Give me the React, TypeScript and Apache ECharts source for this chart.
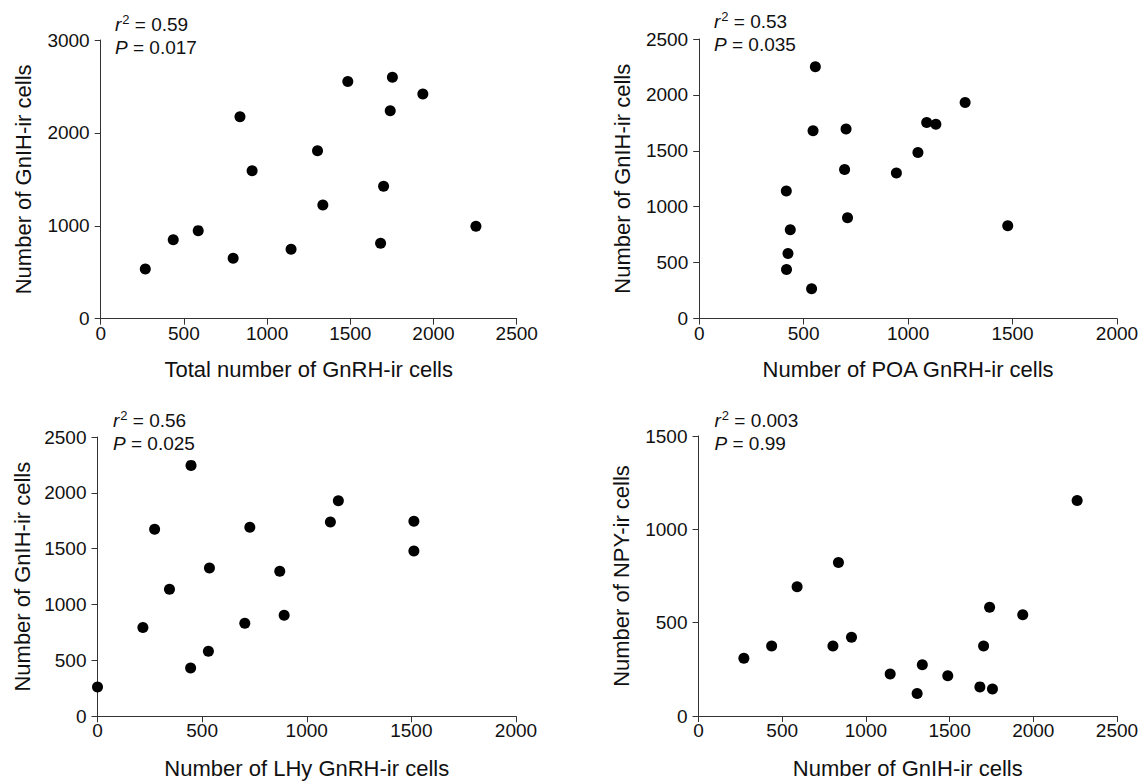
import React, { useEffect, useRef } from "react";
import * as echarts from "echarts";

// Panel A: total GnRH-ir vs GnIH-ir
const totalGnRH = [268, 436, 586, 796, 837, 910, 1144, 1303, 1335, 1485, 1682, 1700, 1740, 1753, 1936, 2255];
const gnihA = [535, 851, 948, 650, 2174, 1592, 747, 1807, 1225, 2554, 812, 1426, 2238, 2598, 2418, 995];
// Panel B: POA GnRH-ir vs GnIH-ir
const poaGnRH = [556, 1273, 1089, 1133, 703, 545, 1047, 696, 944, 417, 710, 1477, 436, 425, 418, 538];
const gnihB = [2252, 1932, 1753, 1738, 1694, 1679, 1484, 1332, 1302, 1141, 902, 830, 794, 582, 439, 266];
// Panel C: LHy GnRH-ir vs GnIH-ir
const lhyGnRH = [447, 1151, 1113, 1512, 1512, 273, 728, 535, 871, 344, 217, 704, 892, 530, 445, 0];
const gnihC = [2246, 1930, 1739, 1745, 1480, 1674, 1692, 1328, 1298, 1137, 794, 832, 904, 582, 433, 263];
// Panel D: GnIH-ir vs NPY-ir
const gnihD = [271, 437, 589, 803, 836, 914, 1145, 1306, 1337, 1489, 1681, 1703, 1739, 1756, 1937, 2262];
const npyD = [309, 375, 692, 375, 822, 422, 225, 120, 275, 216, 156, 375, 583, 145, 542, 1155];

const xNames = [
  "Total number of GnRH-ir cells",
  "Number of POA GnRH-ir cells",
  "Number of LHy GnRH-ir cells",
  "Number of GnIH-ir cells",
];
const yNames = [
  "Number of GnIH-ir cells",
  "Number of GnIH-ir cells",
  "Number of GnIH-ir cells",
  "Number of NPY-ir cells",
];
const xMax = [2500, 2000, 2000, 2500];
const xStep = [500, 500, 500, 500];
const yMax = [3000, 2500, 2500, 1500];
const yStep = [1000, 500, 500, 500];
const r2Values = ["0.59", "0.53", "0.56", "0.003"];
const pValues = ["0.017", "0.035", "0.025", "0.99"];

const TEXT = "#111";
const AXIS = "#333";
const FONT = "Liberation Sans, Arial, Helvetica, sans-serif";

export default function App() {
  const ref = useRef<HTMLDivElement>(null);
  useEffect(() => {
    if (!ref.current) return;
    const chart = echarts.init(ref.current, undefined, { renderer: "svg" });
    const grids = [
      { left: 100.7, top: 40, width: 416, height: 278.7 },
      { left: 699.2, top: 39, width: 417.8, height: 279.5 },
      { left: 97.5, top: 437, width: 418.5, height: 279.3 },
      { left: 698.5, top: 436, width: 418.5, height: 280 },
    ];
    const pairs = [
      [totalGnRH, gnihA],
      [poaGnRH, gnihB],
      [lhyGnRH, gnihC],
      [gnihD, npyD],
    ];
    const yGaps = [66, 66, 64, 66];
    const xGaps = [40, 40, 41, 41];
    const axisCommon = {
      axisLine: { show: true, onZero: false, lineStyle: { color: AXIS, width: 1 } },
      axisTick: { show: true, length: 6, lineStyle: { color: AXIS, width: 1 } },
      splitLine: { show: false },
      nameTextStyle: { color: TEXT, fontSize: 22, fontFamily: FONT },
    };
    const textPos = [
      { x: 115, y: 12.5 },
      { x: 714, y: 10 },
      { x: 113, y: 409 },
      { x: 714.5, y: 409 },
    ];
    const rich = {
      i: { fontStyle: "italic", fontSize: 19, fontFamily: FONT, fill: TEXT, lineHeight: 23 },
      s: { fontSize: 13, fontFamily: FONT, fill: TEXT, lineHeight: 23, verticalAlign: "top", padding: [0, 0, 0, 1] },
      n: { fontSize: 19, fontFamily: FONT, fill: TEXT, lineHeight: 23 },
    };
    const fmt = (v: number) => String(v);
    chart.setOption({
      animation: false,
      backgroundColor: "#ffffff",
      grid: grids.map((g) => ({ ...g, containLabel: false })),
      xAxis: grids.map((_, i) => ({
        type: "value",
        gridIndex: i,
        min: 0,
        max: xMax[i],
        interval: xStep[i],
        name: xNames[i],
        nameLocation: "middle",
        nameGap: xGaps[i],
        ...axisCommon,
        axisLabel: { color: TEXT, fontSize: 19, fontFamily: FONT, margin: 5, formatter: fmt },
      })),
      yAxis: grids.map((_, i) => ({
        type: "value",
        gridIndex: i,
        min: 0,
        max: yMax[i],
        interval: yStep[i],
        name: yNames[i],
        nameLocation: "middle",
        nameGap: yGaps[i],
        ...axisCommon,
        axisLabel: { color: TEXT, fontSize: 19, fontFamily: FONT, margin: 11, formatter: fmt },
      })),
      series: pairs.map(([xs, ys], i) => ({
        type: "scatter",
        xAxisIndex: i,
        yAxisIndex: i,
        symbol: "circle",
        symbolSize: 11,
        itemStyle: { color: "#000", opacity: 1 },
        data: xs.map((x, k) => [x, ys[k]]),
      })),
      graphic: textPos.map((p, i) => ({
        type: "text",
        x: p.x,
        y: p.y,
        style: {
          text: `{i|r}{s|2}{n| = ${r2Values[i]}}\n{i|P}{n| = ${pValues[i]}}`,
          rich,
          fill: TEXT,
          font: `19px ${FONT}`,
          lineHeight: 23,
        },
      })),
    });
    return () => chart.dispose();
  }, []);
  return (
    <div
      ref={ref}
      style={{ position: "absolute", left: 0, top: 0, width: 1148, height: 784, background: "#fff" }}
    />
  );
}
